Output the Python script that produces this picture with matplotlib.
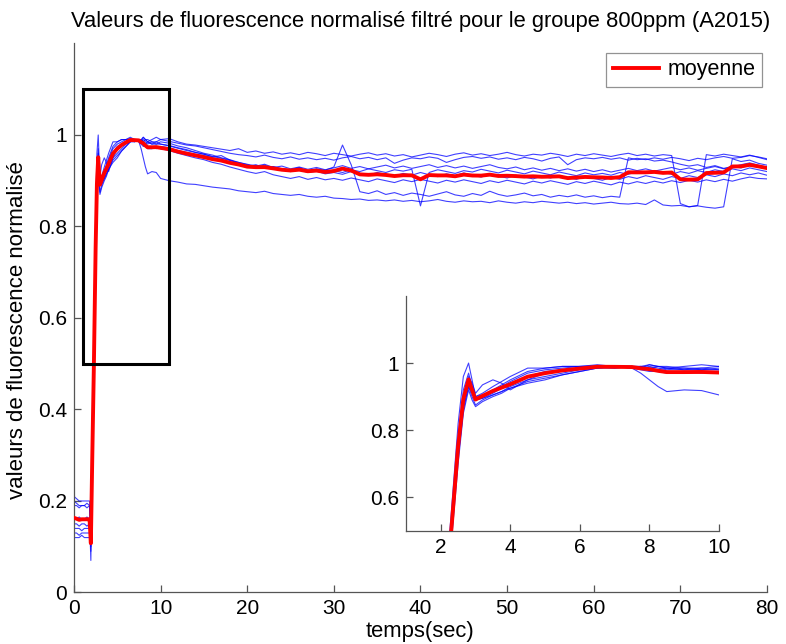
import numpy as np
import matplotlib
matplotlib.use("Agg")
import matplotlib.pyplot as plt
import matplotlib.patches as patches
from matplotlib.ticker import FormatStrFormatter

plt.rcParams["font.family"] = ["Liberation Sans", "DejaVu Sans"]

# time grid (sec): fine sampling around the stimulus, then one sample per second
t_early = [0, 0.3, 0.6, 0.9, 1.2, 1.5, 1.8, 1.95, 2.1, 2.3, 2.5, 2.65, 2.8, 2.9, 3.0, 3.2,
           3.5, 3.75, 4.0, 4.5, 5.0, 5.5, 6.0, 6.5, 7.0, 7.5, 7.75, 8.0, 8.25, 8.5, 9.0, 9.5]
t_late = np.arange(10, 81, 1.0)

# normalised fluorescence of each sample, early part (same grid as t_early)
early = [
    [0.21, 0.205, 0.20, 0.20, 0.20, 0.20, 0.20, 0.12, 0.30, 0.52, 0.78, 0.92, 0.97, 0.93, 0.90, 0.905,
     0.92, 0.935, 0.95, 0.975, 0.985, 0.99, 0.99, 0.992, 0.99, 0.985, 0.97, 0.95, 0.93, 0.915, 0.92, 0.918],
    [0.19, 0.19, 0.185, 0.19, 0.19, 0.185, 0.19, 0.09, 0.27, 0.50, 0.76, 0.90, 0.95, 0.92, 0.89, 0.895,
     0.905, 0.915, 0.925, 0.945, 0.955, 0.965, 0.975, 0.985, 0.99, 0.99, 0.99, 0.985, 0.99, 0.99, 0.985, 0.985],
    [0.165, 0.16, 0.165, 0.16, 0.16, 0.165, 0.16, 0.07, 0.30, 0.55, 0.82, 0.96, 1.00, 0.95, 0.90, 0.91,
     0.93, 0.945, 0.96, 0.985, 0.985, 0.99, 0.99, 0.995, 0.99, 0.99, 0.985, 0.995, 0.99, 0.985, 0.99, 0.995],
    [0.15, 0.15, 0.145, 0.15, 0.15, 0.145, 0.15, 0.10, 0.28, 0.50, 0.76, 0.90, 0.96, 0.94, 0.91, 0.935,
     0.95, 0.94, 0.92, 0.95, 0.97, 0.98, 0.985, 0.99, 0.99, 0.985, 0.99, 0.995, 0.99, 0.985, 0.98, 0.985],
    [0.14, 0.14, 0.14, 0.135, 0.14, 0.14, 0.14, 0.11, 0.27, 0.47, 0.72, 0.86, 0.93, 0.90, 0.875, 0.89,
     0.905, 0.915, 0.93, 0.95, 0.96, 0.97, 0.98, 0.985, 0.99, 0.99, 0.985, 0.98, 0.975, 0.975, 0.975, 0.97],
    [0.13, 0.13, 0.125, 0.13, 0.13, 0.13, 0.13, 0.12, 0.26, 0.46, 0.70, 0.85, 0.92, 0.89, 0.87, 0.885,
     0.90, 0.91, 0.925, 0.94, 0.95, 0.965, 0.975, 0.985, 0.985, 0.99, 0.985, 0.99, 0.985, 0.98, 0.985, 0.98],
    [0.12, 0.12, 0.12, 0.125, 0.12, 0.12, 0.12, 0.11, 0.27, 0.48, 0.73, 0.87, 0.93, 0.91, 0.89, 0.895,
     0.91, 0.925, 0.94, 0.96, 0.975, 0.98, 0.985, 0.99, 0.99, 0.985, 0.98, 0.975, 0.975, 0.97, 0.97, 0.975],
    [0.20, 0.195, 0.19, 0.19, 0.19, 0.195, 0.19, 0.14, 0.29, 0.50, 0.75, 0.88, 0.95, 0.92, 0.895, 0.90,
     0.915, 0.93, 0.945, 0.97, 0.98, 0.985, 0.99, 0.99, 0.985, 0.99, 0.99, 0.985, 0.98, 0.985, 0.98, 0.98],
]

# late part, one value per second from 10 s to 80 s
late = [
    [0.905, 0.900, 0.897, 0.893, 0.892, 0.889, 0.886, 0.884, 0.882, 0.878, 0.876, 0.874, 0.877, 0.872,
     0.870, 0.868, 0.870, 0.866, 0.864, 0.866, 0.862, 0.861, 0.859, 0.860, 0.857, 0.858, 0.856, 0.858,
     0.855, 0.857, 0.854, 0.856, 0.859, 0.855, 0.853, 0.856, 0.854, 0.855, 0.852, 0.856, 0.853, 0.851,
     0.854, 0.852, 0.855, 0.853, 0.851, 0.853, 0.850, 0.852, 0.849, 0.851, 0.853, 0.850, 0.849, 0.851,
     0.848, 0.858, 0.847, 0.845, 0.846, 0.843, 0.845, 0.842, 0.840, 0.843, 0.948, 0.942, 0.945, 0.938,
     0.934],
    [0.980, 0.977, 0.972, 0.968, 0.962, 0.958, 0.952, 0.955, 0.945, 0.938, 0.932, 0.935, 0.928, 0.931,
     0.926, 0.924, 0.929, 0.921, 0.926, 0.923, 0.930, 0.978, 0.935, 0.876, 0.872, 0.878, 0.870, 0.874,
     0.868, 0.873, 0.870, 0.866, 0.871, 0.876, 0.869, 0.866, 0.872, 0.868, 0.877, 0.870, 0.866, 0.869,
     0.873, 0.867, 0.870, 0.864, 0.868, 0.865, 0.869, 0.864, 0.867, 0.863, 0.866, 0.864, 0.950, 0.946,
     0.948, 0.943, 0.945, 0.941, 0.936, 0.932, 0.935, 0.929, 0.933, 0.927, 0.931, 0.928, 0.934, 0.930,
     0.927],
    [0.990, 0.992, 0.985, 0.980, 0.978, 0.975, 0.972, 0.969, 0.966, 0.970, 0.962, 0.965, 0.960, 0.963,
     0.958, 0.961, 0.957, 0.962, 0.959, 0.955, 0.960, 0.957, 0.954, 0.958, 0.961, 0.956, 0.959, 0.954,
     0.957, 0.952, 0.956, 0.960, 0.957, 0.953, 0.958, 0.961, 0.956, 0.959, 0.955, 0.958, 0.962, 0.957,
     0.954, 0.958, 0.956, 0.960, 0.957, 0.953, 0.958, 0.955, 0.959, 0.956, 0.953, 0.957, 0.960, 0.955,
     0.958, 0.954, 0.957, 0.955, 0.850, 0.843, 0.846, 0.957, 0.954, 0.958, 0.955, 0.952, 0.956, 0.951,
     0.946],
    [0.990, 0.986, 0.982, 0.978, 0.976, 0.972, 0.968, 0.964, 0.960, 0.957, 0.955, 0.952, 0.956, 0.951,
     0.948, 0.952, 0.947, 0.950, 0.946, 0.949, 0.945, 0.950, 0.953, 0.948, 0.951, 0.946, 0.950, 0.938,
     0.945, 0.950, 0.948, 0.952, 0.949, 0.940, 0.946, 0.951, 0.953, 0.949, 0.952, 0.947, 0.950, 0.946,
     0.951, 0.948, 0.943, 0.949, 0.952, 0.935, 0.946, 0.950, 0.948, 0.951, 0.947, 0.950, 0.945, 0.949,
     0.946, 0.950, 0.947, 0.951, 0.948, 0.944, 0.949, 0.946, 0.950, 0.953, 0.949, 0.951, 0.955, 0.952,
     0.948],
    [0.975, 0.972, 0.966, 0.962, 0.958, 0.955, 0.950, 0.946, 0.940, 0.936, 0.930, 0.933, 0.927, 0.930,
     0.925, 0.923, 0.927, 0.921, 0.925, 0.919, 0.922, 0.918, 0.924, 0.920, 0.926, 0.922, 0.918, 0.924,
     0.921, 0.925, 0.845, 0.918, 0.924, 0.920, 0.916, 0.922, 0.919, 0.925, 0.921, 0.917, 0.923, 0.919,
     0.915, 0.921, 0.917, 0.913, 0.919, 0.915, 0.911, 0.917, 0.913, 0.916, 0.912, 0.918, 0.914, 0.920,
     0.916, 0.922, 0.918, 0.914, 0.920, 0.916, 0.922, 0.918, 0.924, 0.920, 0.926, 0.922, 0.928, 0.924,
     0.920],
    [0.985, 0.982, 0.976, 0.972, 0.966, 0.960, 0.956, 0.950, 0.946, 0.940, 0.935, 0.930, 0.934, 0.927,
     0.924, 0.920, 0.924, 0.918, 0.921, 0.915, 0.918, 0.914, 0.920, 0.916, 0.912, 0.918, 0.914, 0.910,
     0.916, 0.912, 0.918, 0.913, 0.909, 0.915, 0.911, 0.917, 0.912, 0.908, 0.914, 0.910, 0.906, 0.912,
     0.908, 0.904, 0.910, 0.906, 0.911, 0.907, 0.903, 0.909, 0.905, 0.901, 0.907, 0.903, 0.909, 0.905,
     0.911, 0.907, 0.903, 0.909, 0.905, 0.911, 0.907, 0.913, 0.909, 0.915, 0.911, 0.917, 0.913, 0.917,
     0.912],
    [0.970, 0.966, 0.960, 0.955, 0.950, 0.946, 0.940, 0.936, 0.930, 0.925, 0.920, 0.916, 0.920, 0.913,
     0.909, 0.905, 0.909, 0.903, 0.907, 0.902, 0.905, 0.901, 0.906, 0.902, 0.898, 0.904, 0.900, 0.896,
     0.902, 0.898, 0.903, 0.899, 0.895, 0.901, 0.897, 0.902, 0.898, 0.894, 0.900, 0.896, 0.901, 0.897,
     0.893, 0.899, 0.895, 0.900, 0.896, 0.892, 0.898, 0.894, 0.899, 0.895, 0.891, 0.897, 0.893, 0.898,
     0.894, 0.899, 0.895, 0.900, 0.896, 0.901, 0.897, 0.902, 0.898, 0.903, 0.899, 0.904, 0.908, 0.905,
     0.904],
    [0.980, 0.976, 0.971, 0.966, 0.962, 0.958, 0.953, 0.949, 0.944, 0.940, 0.936, 0.932, 0.936, 0.929,
     0.932, 0.926, 0.930, 0.925, 0.929, 0.924, 0.928, 0.933, 0.927, 0.931, 0.926, 0.930, 0.934, 0.928,
     0.932, 0.927, 0.931, 0.935, 0.929, 0.933, 0.928, 0.932, 0.927, 0.931, 0.935, 0.929, 0.926, 0.930,
     0.924, 0.928, 0.923, 0.927, 0.922, 0.926, 0.921, 0.925, 0.920, 0.924, 0.919, 0.923, 0.927, 0.922,
     0.926, 0.921, 0.925, 0.929, 0.924, 0.928, 0.923, 0.927, 0.931, 0.926, 0.930, 0.935, 0.939, 0.934,
     0.930],
]

title = "Valeurs de fluorescence normalisé filtré pour le groupe 800ppm (A2015)"
xlabel = "temps(sec)"
ylabel = "valeurs de fluorescence normalisé"
mean_label = "moyenne"

t = np.concatenate([t_early, t_late])
traces = np.array([e + l for e, l in zip(early, late)])
mean = traces.mean(axis=0)

BLUE = (0.0, 0.0, 1.0)
RED = (1.0, 0.0, 0.0)
SPINE = "#555555"


def style_axes(ax, size):
    for side in ("top", "right"):
        ax.spines[side].set_visible(False)
    for side in ("left", "bottom"):
        ax.spines[side].set_color(SPINE)
        ax.spines[side].set_linewidth(0.9)
    ax.tick_params(direction="in", length=5, width=0.9, color=SPINE, labelsize=size, pad=5)
    ax.yaxis.set_major_formatter(FormatStrFormatter("%g"))


def draw_traces(ax):
    for tr in traces:
        ax.plot(t, tr, color=BLUE, linewidth=0.8, alpha=0.75)
    line, = ax.plot(t, mean, color=RED, linewidth=2.8, zorder=5)
    return line


fig = plt.figure(figsize=(7.86, 6.44), dpi=100)

# main view
ax = fig.add_axes([0.0941, 0.0800, 0.8817, 0.8525])
red_line = draw_traces(ax)
ax.set_xlim(0, 80)
ax.set_ylim(0, 1.2)
ax.set_xticks(np.arange(0, 81, 10))
ax.set_yticks([0, 0.2, 0.4, 0.6, 0.8, 1.0])
style_axes(ax, 15)
ax.set_title(title, fontsize=15.8, pad=12)
ax.set_xlabel(xlabel, fontsize=15.8, labelpad=2)
ax.set_ylabel(ylabel, fontsize=16, labelpad=2)
ax.yaxis.set_label_coords(-0.066, 0.478)

# zoom box
ax.add_patch(patches.Rectangle((1, 0.5), 10, 0.6, fill=False, edgecolor="black", linewidth=2.2, zorder=6))

leg = ax.legend([red_line], [mean_label], loc="upper right", bbox_to_anchor=(0.993, 0.983),
                fontsize=15.5, frameon=True, fancybox=False, handlelength=2.15, borderpad=0.3,
                handletextpad=0.4, borderaxespad=0)
leg.get_frame().set_edgecolor("#777777")
leg.get_frame().set_linewidth(0.9)

# inset view of the first seconds
ins = fig.add_axes([0.5165, 0.1758, 0.3982, 0.3646])
draw_traces(ins)
ins.set_xlim(1, 10)
ins.set_ylim(0.5, 1.2)
ins.set_xticks([2, 4, 6, 8, 10])
ins.set_yticks([0.6, 0.8, 1.0])
style_axes(ins, 15)

fig.savefig("out.png", dpi=100)
